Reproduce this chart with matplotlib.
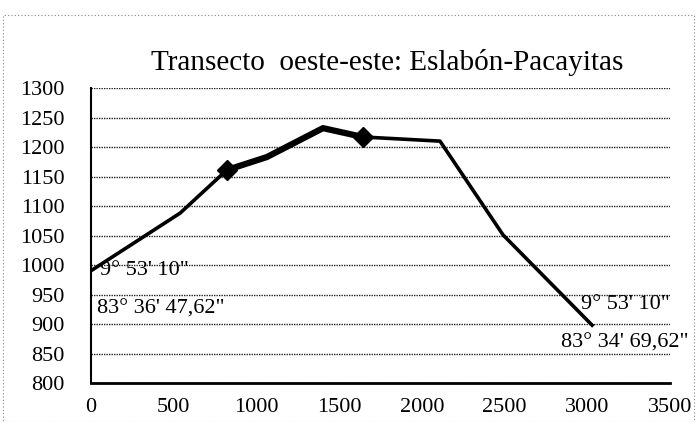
import matplotlib.pyplot as plt
from matplotlib.patches import Rectangle

# distancia (m) y altitud (msnm)
distancia = [0, 540, 822, 1064, 1403, 1645, 2110, 2491, 3029]
altitud = [990, 1088, 1161, 1183, 1232, 1217, 1210, 1051, 898]
marcados = [2, 5]  # indices con rombo

y_ticks = list(range(800, 1301, 50))
x_ticks = list(range(0, 3501, 500))

plt.rcParams['font.family'] = ['Liberation Serif', 'DejaVu Serif']

fig = plt.figure(figsize=(6.98, 4.22), dpi=100)
ax = fig.add_axes([0.130, 0.0924, 0.830, 0.699])

ax.plot(distancia, altitud, color='black', lw=2.6, zorder=3)
# tramo mas grueso entre los dos rombos
ax.plot(distancia[2:6], altitud[2:6], color='black', lw=4.5, zorder=3,
        solid_capstyle='round')
ax.plot([distancia[i] for i in marcados], [altitud[i] for i in marcados],
        marker='D', ms=10, color='black', ls='none', zorder=4)

ax.set_xlim(0, 3500)
ax.set_ylim(800, 1300)
ax.set_xticks(x_ticks)
ax.set_yticks(y_ticks)
ax.tick_params(length=0, labelsize=16)
ax.tick_params(axis='y', pad=19)
ax.tick_params(axis='x', pad=11)
ax.yaxis.grid(True, color='#222222', lw=1.0, ls=(0, (1, 0.8)))
ax.set_axisbelow(True)
for s in ['top', 'right']:
    ax.spines[s].set_visible(False)
ax.spines['left'].set_linewidth(1.5)
ax.spines['bottom'].set_linewidth(2)

fs = 16
ax.text(55, 991, "9° 53' 10\"", fontsize=fs, va='center', ha='left')
ax.text(40, 925, "83° 36' 47,62\"", fontsize=fs, va='center', ha='left')
ax.text(2960, 933, "9° 53' 10\"", fontsize=fs, va='center', ha='left')
ax.text(2840, 868, "83° 34' 69,62\"", fontsize=fs, va='center', ha='left',
        clip_on=False)

fig.text(0.554, 0.853, "Transecto  oeste-este: Eslabón-Pacayitas", fontsize=21,
         ha='center', va='center')

fig.patches.append(Rectangle((0.004, 0.0), 0.99, 0.965, transform=fig.transFigure,
                             fill=False, ls=(0, (1, 2)), lw=0.8, color='#888888'))

fig.savefig('out.png', dpi=100)
